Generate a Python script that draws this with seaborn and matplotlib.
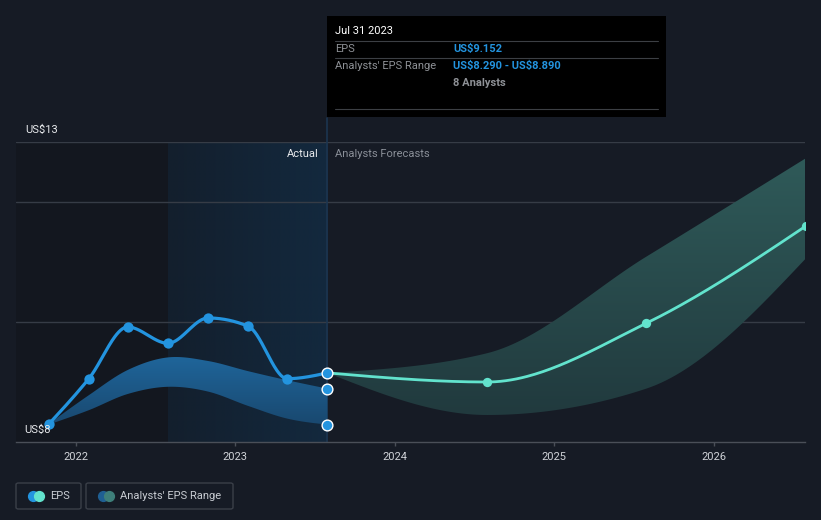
import numpy as np
import pandas as pd
import matplotlib
matplotlib.use("Agg")
import matplotlib.pyplot as plt
from matplotlib.patches import Rectangle, FancyBboxPatch
from matplotlib.colors import LinearSegmentedColormap
import seaborn as sns

# ---------------- data ----------------
actual_dates = ["2021-10-31", "2022-01-31", "2022-04-30", "2022-07-31",
                "2022-10-31", "2023-01-31", "2023-04-30", "2023-07-31"]
actual_eps = [8.295, 9.055, 9.917, 9.645, 10.067, 9.928, 9.055, 9.152]
actual_range_hi = [8.30, 8.78, 9.20, 9.41, 9.35, 9.18, 9.03, 8.89]
actual_range_lo = [8.29, 8.53, 8.80, 8.92, 8.84, 8.60, 8.39, 8.29]

forecast_dates = ["2023-07-31", "2024-07-31", "2025-07-31", "2026-07-31"]
forecast_eps = [9.152, 9.00, 9.98, 11.60]
forecast_hi = [9.152, 9.48, 11.09, 12.73]
forecast_lo = [9.152, 8.45, 8.89, 11.06]

year_ticks = [2022, 2023, 2024, 2025, 2026]
y_labels = {13: "US\\$13", 8: "US\\$8"}
grid_values = [13, 12, 10]

# ---------------- helpers ----------------
def dec_year(s):
    d = pd.to_datetime(pd.Series(s))
    start = pd.to_datetime(d.dt.year.astype(str) + "-01-01")
    ndays = np.where(d.dt.is_leap_year, 366, 365)
    return (d.dt.year + (d - start).dt.days / ndays).to_numpy(dtype=float)


def smooth(x, y, n=60, kind="monotone"):
    x = np.asarray(x, float); y = np.asarray(y, float)
    h = np.diff(x); s = np.diff(y) / h
    m = np.zeros_like(y)
    for i in range(1, len(y) - 1):
        if kind == "monotone":
            p = (s[i - 1] * h[i] + s[i] * h[i - 1]) / (h[i - 1] + h[i])
            m[i] = (np.sign(s[i - 1]) + np.sign(s[i])) * min(abs(s[i - 1]), abs(s[i]), 0.5 * abs(p))
        else:
            m[i] = (y[i + 1] - y[i - 1]) / (x[i + 1] - x[i - 1])
    if len(y) > 2:
        m[0] = (3 * s[0] - m[1]) / 2
        m[-1] = (3 * s[-1] - m[-2]) / 2
    else:
        m[:] = s[0]
    xs, ys = [], []
    for i in range(len(h)):
        t = np.linspace(0, 1, n, endpoint=(i == len(h) - 1))
        h00 = 2 * t**3 - 3 * t**2 + 1
        h10 = t**3 - 2 * t**2 + t
        h01 = -2 * t**3 + 3 * t**2
        h11 = t**3 - t**2
        xs.append(x[i] + t * h[i])
        ys.append(h00 * y[i] + h10 * h[i] * m[i] + h01 * y[i + 1] + h11 * h[i] * m[i + 1])
    return np.concatenate(xs), np.concatenate(ys)


W, H = 821, 520
def fx(px):
    return px / W
def fy(py):
    return 1 - py / H

# ---------------- style ----------------
sns.set_theme(style="dark")
plt.rcParams["font.family"] = ["Roboto", "DejaVu Sans"]
BG = "#161b25"
BLUE = "#2394df"
TEAL = "#62e3cd"

fig = plt.figure(figsize=(W / 100, H / 100), dpi=100)
fig.patch.set_facecolor(BG)
ax = fig.add_axes([fx(16), fy(442), (805 - 16) / W, 300 / H])
ax.set_facecolor(BG)

xa = dec_year(actual_dates)
xf = dec_year(forecast_dates)
x0 = 2022 + (16 - 75.7) / 159.5
x1 = 2022 + (805 - 75.7) / 159.5
ax.set_xlim(x0, x1)
ax.set_ylim(8, 13)

# background zones
split_left = xa[3]
split_now = xa[-1]
ax.axvspan(x0, split_left, color="#13171f", zorder=0, lw=0)
grad = np.linspace(0, 1, 256).reshape(1, -1)
cm_mid = LinearSegmentedColormap.from_list("mid", ["#131f2d", "#13293e"])
ax.imshow(grad, extent=[split_left, split_now, 8, 13], aspect="auto",
          cmap=cm_mid, zorder=0.5, interpolation="bicubic")

# grid lines
for g in grid_values:
    ax.axhline(g, color="#363c46", lw=1, zorder=1)

# vertical "now" line
ax.plot([split_now, split_now], [8, 13 + 24 / 60], color="#1c3550", lw=1.2,
        clip_on=False, zorder=1)

# gradient-filled bands
def grad_band(xs, lo, hi, c_top, c_bot, z, kind):
    bx, bh = smooth(xs, hi, kind=kind)
    _, bl = smooth(xs, lo, kind=kind)
    poly = ax.fill_between(bx, bl, bh, facecolor="none", edgecolor="none")
    cmap = LinearSegmentedColormap.from_list("b", [c_bot, c_top])
    g = np.linspace(0, 1, 256).reshape(-1, 1)
    im = ax.imshow(g, extent=[bx.min(), bx.max(), bl.min(), bh.max()], origin="lower",
                   aspect="auto", cmap=cmap, zorder=z, interpolation="bicubic")
    im.set_clip_path(poly.get_paths()[0], transform=ax.transData)

grad_band(xa, actual_range_lo, actual_range_hi, "#1f659a", "#19486f", 2, "cardinal")
grad_band(xf, forecast_lo, forecast_hi, "#2f5a59", "#213a3e", 2, "monotone")

# lines
ax_x, ax_y = smooth(xa, actual_eps)
sns.lineplot(x=ax_x, y=ax_y, ax=ax, color=BLUE, lw=2.3, zorder=4, sort=False,
             estimator=None)
fx_x, fx_y = smooth(xf, forecast_eps)
sns.lineplot(x=fx_x, y=fx_y, ax=ax, color=TEAL, lw=2.0, zorder=4, sort=False,
             estimator=None)

# markers
sns.scatterplot(x=xa[:-1], y=actual_eps[:-1], ax=ax, color=BLUE, s=55,
                edgecolor=BLUE, linewidth=0, zorder=5)
sns.scatterplot(x=xf[1:], y=forecast_eps[1:], ax=ax, color=TEAL, s=45,
                edgecolor=TEAL, linewidth=0, zorder=5)
sns.scatterplot(x=[xa[-1]] * 3, y=[actual_eps[-1], actual_range_hi[-1], actual_range_lo[-1]],
                ax=ax, color=BLUE, s=60, edgecolor="white", linewidth=1.0, zorder=6,
                clip_on=False)

# axes styling
for sp in ["top", "right", "left"]:
    ax.spines[sp].set_visible(False)
ax.spines["bottom"].set_color("#4a4f58")
ax.spines["bottom"].set_linewidth(1)
ax.set_xticks(year_ticks)
ax.set_xticklabels([str(y) for y in year_ticks])
ax.tick_params(axis="x", colors="#4a4f58", length=3, width=1, pad=4,
               labelcolor="#d0d3d8", labelsize=8, bottom=True)
ax.set_yticks([])
ax.grid(False)
ax.set_xlabel(""); ax.set_ylabel("")

# y labels
fig.text(fx(25), fy(130), y_labels[13], color="#e8eaed", fontsize=8, va="center", ha="left")
fig.text(fx(24), fy(430), y_labels[8], color="#e8eaed", fontsize=8, va="center", ha="left",
         zorder=10)

# Actual / forecast labels
fig.text(fx(319), fy(154), "Actual", color="#e8eaed", fontsize=8, va="center", ha="right")
fig.text(fx(335), fy(154), "Analysts Forecasts", color="#8a8f98", fontsize=8,
         va="center", ha="left")

# tooltip
fig.patches.append(Rectangle((fx(327), fy(117)), (666 - 327) / W, (117 - 16) / H,
                             transform=fig.transFigure, facecolor="#000000",
                             edgecolor="none", zorder=20))
for ly in [41, 58, 109]:
    fig.lines.append(plt.Line2D([fx(335), fx(658)], [fy(ly), fy(ly)], transform=fig.transFigure,
                                color="#3c3f44", lw=0.8, zorder=21))
tt = dict(fontsize=8, va="center", ha="left", zorder=22)
fig.text(fx(335), fy(31), "Jul 31 2023", color="#ffffff", **tt)
fig.text(fx(335), fy(49), "EPS", color="#8e9196", **tt)
fig.text(fx(453), fy(49), "US\\$9.152", color=BLUE, fontweight="bold", **tt)
fig.text(fx(335), fy(66), "Analysts' EPS Range", color="#8e9196", **tt)
fig.text(fx(453), fy(66), "US\\$8.290 - US\\$8.890", color=BLUE, fontweight="bold", **tt)
fig.text(fx(453), fy(83), "8 Analysts", color="#8e9196", fontweight="bold", **tt)

# legend
for (lx0, lx1) in [(16, 81), (86, 233)]:
    fig.patches.append(FancyBboxPatch((fx(lx0), fy(509)), (lx1 - lx0) / W, 26 / H,
                                      boxstyle="round,pad=0,rounding_size=0.003",
                                      transform=fig.transFigure, facecolor="none",
                                      edgecolor="#3a3f48", lw=1, zorder=20))
lg = fig.add_axes([0, 0, 1, 1], facecolor="none")
lg.set_xlim(0, W); lg.set_ylim(H, 0); lg.axis("off")
lg.scatter([33], [496], s=50, color=BLUE, zorder=2)
lg.scatter([39], [496], s=50, color=TEAL, zorder=3)
lg.scatter([103], [496], s=50, color="#1f5f93", zorder=2)
lg.scatter([109], [496], s=50, color="#3e7f7a", zorder=3)
lg.text(50, 496, "EPS", color="#c8ccd2", fontsize=8, va="center", ha="left")
lg.text(120, 496, "Analysts' EPS Range", color="#c8ccd2", fontsize=8, va="center", ha="left")

fig.savefig("out.png", dpi=100, facecolor=BG)
